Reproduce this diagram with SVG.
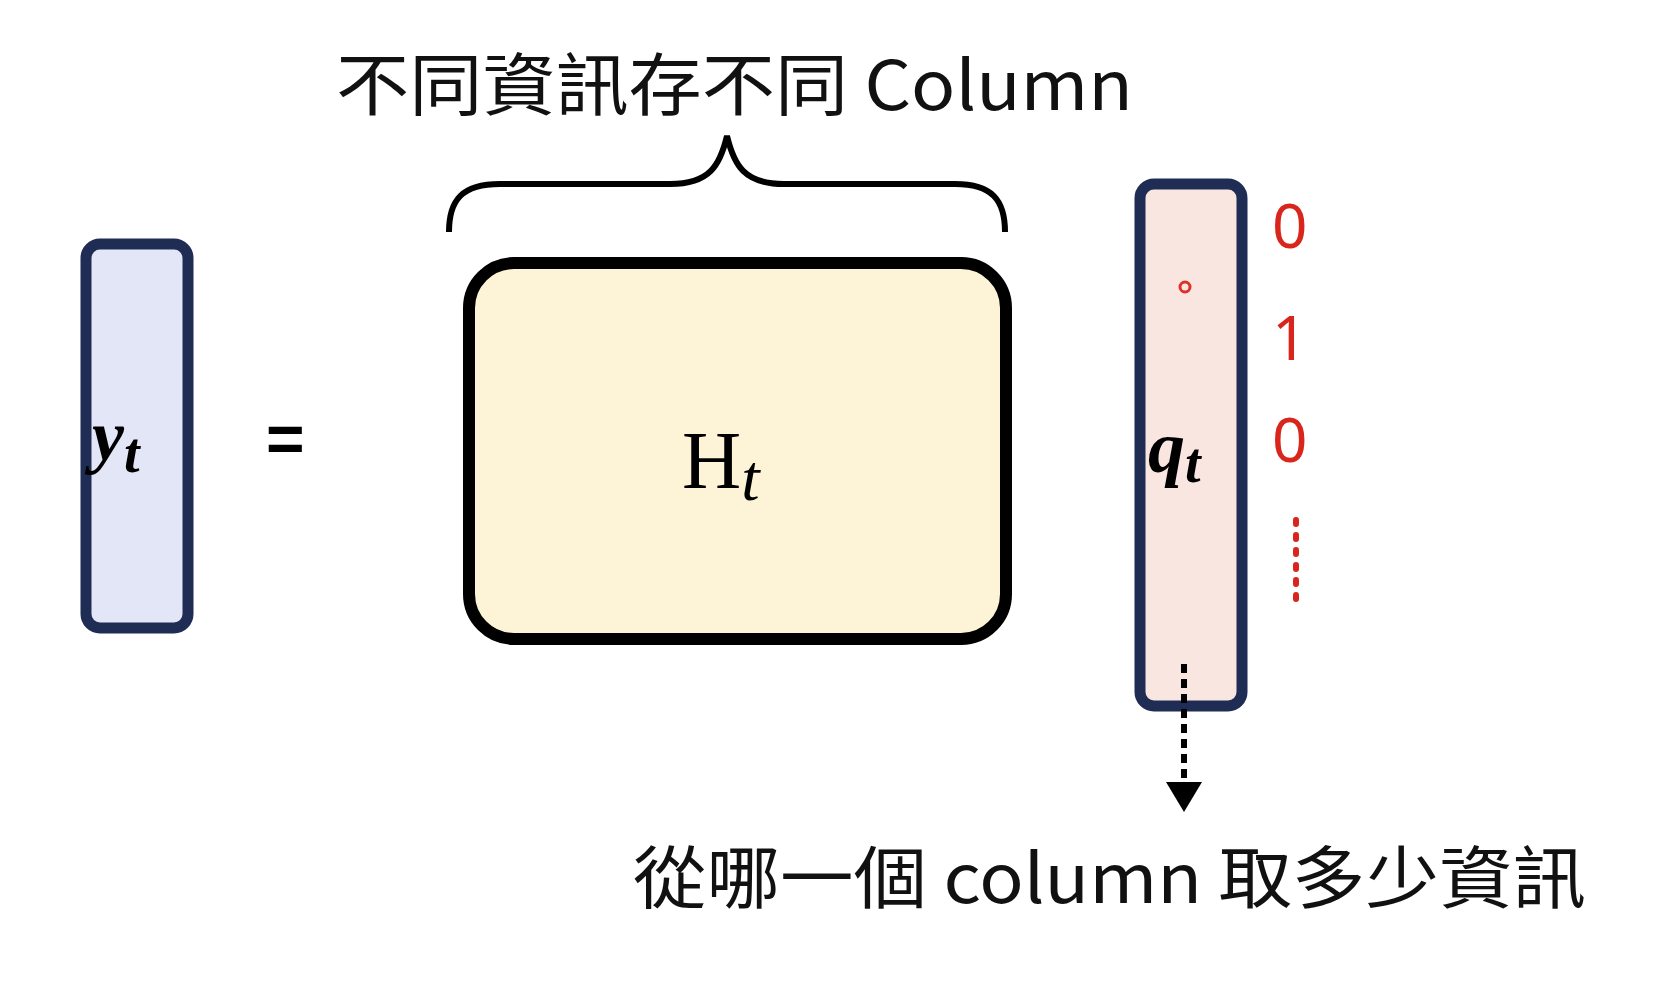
<svg xmlns="http://www.w3.org/2000/svg" width="1674" height="1004" viewBox="0 0 1674 1004">
<style>
.cjk{font-family:"Noto Sans CJK TC","Noto Sans",sans-serif;font-size:68px;fill:#111}
.m{font-family:"Liberation Serif",serif;fill:#000}
.red{font-family:"Noto Sans","Liberation Sans",sans-serif;font-size:62px;fill:#d9261c}
</style>
<defs><marker id="ah" markerWidth="6" markerHeight="6" refX="3" refY="3" orient="auto" markerUnits="strokeWidth"><path d="M0,0 L5,3 L0,6 z" fill="#000"/></marker></defs>
<rect width="1674" height="1004" fill="#fff"/>
<text class="cjk" x="336" y="110" textLength="797" lengthAdjust="spacingAndGlyphs">不同資訊存不同 Column</text>
<path d="M449,232 C449,200 462,184 500,184 L670,184 C710,184 720,165 727,136 C734,165 744,184 784,184 L955,184 C992,184 1005,200 1005,232" fill="none" stroke="#000" stroke-width="6"/>
<g id="yt"><rect x="86" y="244" width="102" height="384" rx="14" fill="#e3e6f7" stroke="#1f2d55" stroke-width="11"/>
<text class="m" x="92" y="460" font-size="72" font-style="italic" font-weight="bold">y<tspan font-size="56" dy="12">t</tspan></text></g>
<text x="266" y="462" font-size="66" font-family="Liberation Sans" font-weight="bold">=</text>
<g id="Ht"><rect x="469" y="263" width="537" height="376" rx="45" fill="#fdf3d7" stroke="#000" stroke-width="12"/>
<text class="m" x="682" y="488" font-size="82">H<tspan font-size="66" font-style="italic" dy="12">t</tspan></text></g>
<g id="qt"><rect x="1140" y="184" width="102" height="522" rx="14" fill="#f9e6e0" stroke="#1f2d55" stroke-width="11"/>
<text class="m" x="1148" y="472" font-size="74" font-style="italic" font-weight="bold">q<tspan font-size="56" dy="10">t</tspan></text>
<circle cx="1185" cy="287" r="5" fill="none" stroke="#e0302a" stroke-width="3"/></g>
<text class="red" x="1272" y="248">0</text>
<text class="red" x="1272" y="360">1</text>
<text class="red" x="1272" y="462">0</text>
<line x1="1296" y1="520" x2="1296" y2="610" stroke="#d9261c" stroke-width="6" stroke-dasharray="4 11" stroke-linecap="round"/>
<g id="connectors"><line x1="1184" y1="664" x2="1184" y2="800" stroke="#000" stroke-width="6" stroke-dasharray="9 6" marker-end="url(#ah)"/></g>
<text class="cjk" x="633" y="903" textLength="953" lengthAdjust="spacingAndGlyphs">從哪一個 column 取多少資訊</text>
</svg>
